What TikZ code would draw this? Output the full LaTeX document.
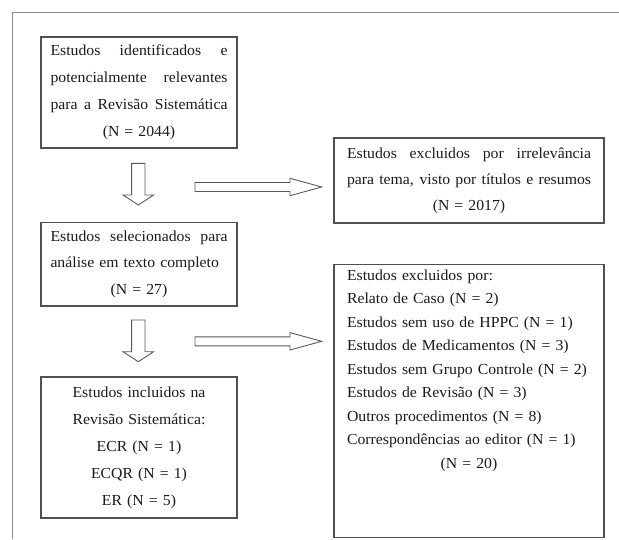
\documentclass[tikz,border=0pt]{standalone}
\usepackage{fontspec}
\setmainfont{Liberation Serif}[FakeStretch=1.03]
\usepackage{tikz}
\usetikzlibrary{arrows.meta}
\definecolor{bordacinza}{HTML}{505050}
\definecolor{molduracinza}{HTML}{8A8A8A}
\definecolor{setacinza}{HTML}{5A5A5A}
\definecolor{textopreto}{HTML}{1A1A1A}
\tikzset{%
    caixa/.style={draw=bordacinza, line width=1.4pt, text=textopreto,
        align=center, inner ysep=4pt,
        font=\fontsize{15.3}{27}\selectfont},
    moldura/.style={draw=molduracinza, line width=1.2pt},
    seta/.style={draw=setacinza, line width=0.9pt, fill=white, line join=miter}
}
% linha justificada
\newcommand{\linha}[1]{\makebox[\linewidth][s]{\spaceskip=0.2em plus 1fil\relax #1}}
\newcommand{\linhaesq}[1]{\makebox[\linewidth][l]{#1}}
% setas em bloco
\newcommand{\setabaixo}[2]{%
    \draw[seta,shift={(#1,#2)}] (-6.7,0) -- (6.7,0) -- (6.7,31.7) -- (15.3,31.7)
        -- (0,41.7) -- (-15.3,31.7) -- (-6.7,31.7) -- cycle;}
\newcommand{\setadireita}[2]{%
    \draw[seta,shift={(#1,#2)}] (0,-4.5) -- (95,-4.5) -- (95,-8.7) -- (126.7,0)
        -- (95,8.7) -- (95,4.5) -- (0,4.5) -- cycle;}

\begin{document}
\begin{tikzpicture}[x=1pt,y=-1pt]
\useasboundingbox (0,0) rectangle (619,539);
\draw[moldura] (619,12.7) -- (12.7,12.7) -- (12.7,539);

\node[caixa, text width=177pt, inner xsep=9.5pt, minimum height=111pt] (identificados) at (139,92.5)
    {\linha{Estudos identificados e}\\ \linha{potencialmente relevantes}\\
     \linha{para a Revisão Sistemática}\\ (N = 2044)};
\node[caixa, text width=244pt, inner xsep=13pt, minimum height=85pt, font=\fontsize{15.3}{26}\selectfont] (excluidos) at (469,180.5)
    {\linha{Estudos excluidos por irrelevância}\\ \linha{para tema, visto por títulos e resumos}\\ (N = 2017)};
\node[caixa, text width=177pt, inner xsep=9.5pt, minimum height=83.5pt, font=\fontsize{15.3}{26.7}\selectfont] (selecionados) at (139,264.3)
    {\linha{Estudos selecionados para}\\ \linhaesq{análise em texto completo}\\ (N = 27)};
\node[caixa, text width=177pt, inner xsep=9.5pt, minimum height=141pt] (incluidos) at (139,447.5)
    {Estudos incluidos na\\ Revisão Sistemática:\\ ECR (N = 1)\\ ECQR (N = 1)\\ ER (N = 5)};
\node[caixa, anchor=north, text width=244pt, inner xsep=13pt, inner ysep=5pt, align=left,
      text depth=252pt, font=\fontsize{15.3}{23.5}\selectfont] (motivos) at (469,264)
    {Estudos excluidos por:\\ Relato de Caso (N = 2)\\ Estudos sem uso de HPPC (N = 1)\\
     Estudos de Medicamentos (N = 3)\\ Estudos sem Grupo Controle (N = 2)\\
     Estudos de Revisão (N = 3)\\ Outros procedimentos (N = 8)\\
     Correspondências ao editor (N = 1)\\ \makebox[\linewidth][c]{(N = 20)}};

\setabaixo{138.3}{163.3}
\setabaixo{138.3}{320}
\setadireita{195}{187}
\setadireita{195}{341.3}
\end{tikzpicture}
\end{document}
